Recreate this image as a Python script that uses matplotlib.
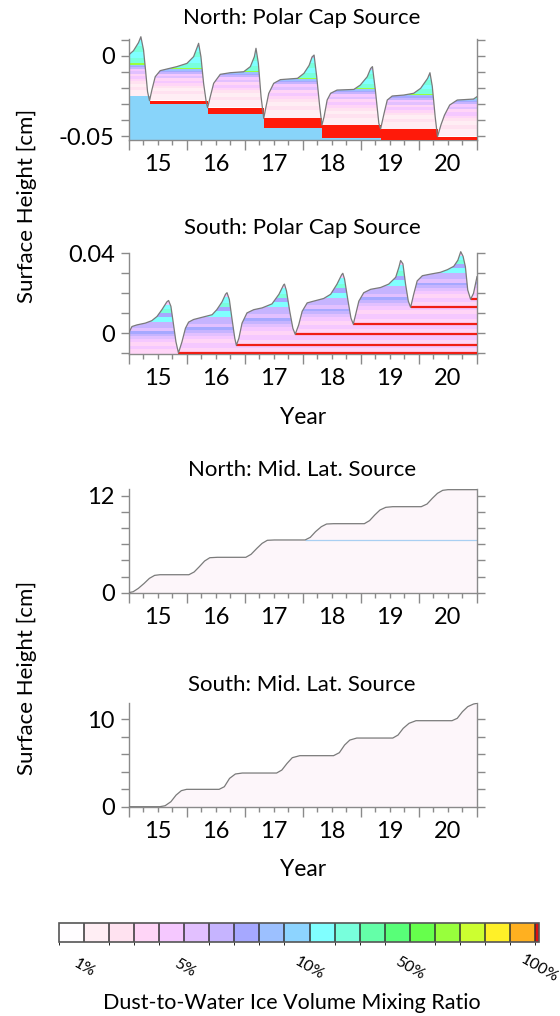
import numpy as np
import matplotlib
matplotlib.use("Agg")
import matplotlib.pyplot as plt
from matplotlib.colors import ListedColormap, BoundaryNorm, to_rgba
from matplotlib.cm import ScalarMappable
from matplotlib.patches import Polygon

plt.rcParams['font.family'] = ['Lato', 'DejaVu Sans']

# ---------------- data ----------------
ratio_colors = ['#FFFDFF', '#FFEEF4', '#FFE2F0', '#FFD5F7', '#F5C8FF', '#E2C0FF',
                '#C6B4FF', '#A6A8FF', '#9CC0FF', '#8DD4FF', '#80FFFF', '#78FFDC',
                '#64FFA8', '#58FF78', '#66FF4C', '#98FF3C', '#CCFF30', '#FFF028',
                '#FFB020', '#DD1111']
ratio_bounds = [0, 1, 2, 3, 4, 5, 6, 7, 8, 9, 10, 11, 12, 13, 14, 15, 16, 17, 18, 19, 19.16]
ratio_tick_pos = [1, 5, 10, 14, 19.16]
ratio_tick_labels = ['1%', '5%', '10%', '50%', '100%']

year_labels = [15, 16, 17, 18, 19, 20]

# North: Polar Cap Source
north_cap_year = [14.50, 14.586, 14.672, 14.713, 14.759, 14.793, 14.828, 14.862,
                  14.902, 14.960, 15.046, 15.161, 15.333, 15.506, 15.621, 15.690, 15.707,
                  15.747, 15.793, 15.839, 15.862,
                  15.908, 15.966, 16.08, 16.253, 16.483, 16.598, 16.667, 16.695, 16.736,
                  16.782, 16.828,
                  16.856, 16.914, 17.0, 17.115, 17.41, 17.52, 17.61, 17.66, 17.695, 17.74,
                  17.79, 17.83,
                  17.867, 17.92, 17.98, 18.09, 18.38, 18.49, 18.61, 18.67, 18.70, 18.75,
                  18.81, 18.84,
                  18.90, 18.955, 19.04, 19.24, 19.41, 19.53, 19.65, 19.69, 19.73, 19.78, 19.82,
                  19.88, 19.94, 20.03, 20.16, 20.44, 20.5]
north_cap_height = [0.0004, 0.0031, 0.0081, 0.0118, 0.0035, -0.0089, -0.0224, -0.0280,
                    -0.0214, -0.0131, -0.0093, -0.0083, -0.0068, -0.0048, -0.0006, 0.0060, 0.0077,
                    -0.0006, -0.0172, -0.0290, -0.0324,
                    -0.0255, -0.0172, -0.0116, -0.0106, -0.0100, -0.0068, -0.0006, 0.0046, -0.0048,
                    -0.0255, -0.0390,
                    -0.0338, -0.0235, -0.0172, -0.0149, -0.0141, -0.0110, -0.0060, -0.0008, 0.0004,
                    -0.0130, -0.0310, -0.0432,
                    -0.0380, -0.0276, -0.0234, -0.0214, -0.0210, -0.0183, -0.0131, -0.0079, -0.0068,
                    -0.0214, -0.0421, -0.0456,
                    -0.0359, -0.0276, -0.0251, -0.0245, -0.0234, -0.0203, -0.0141, -0.0106, -0.0190,
                    -0.0380, -0.0504,
                    -0.0430, -0.0370, -0.0307, -0.0276, -0.0270, -0.0255]
north_cap_seg_edges = [14.5, 14.862, 15.862, 16.828, 17.83, 18.84, 19.82, 20.5]
north_cap_base = [-0.0254, -0.0280, -0.0324, -0.0390, -0.0432, -0.0456, -0.0504]
north_cap_knee = [-0.0060, -0.0088, -0.0105, -0.0147, -0.0212, -0.0248, -0.0272]
north_cap_peak = [0.0118, 0.0077, 0.0046, 0.0004, -0.0068, -0.0106, -0.0255]
north_cap_lag_bottom = [None, -0.0301, -0.0365, -0.0452, -0.0515, -0.0526, -0.0526]
north_cap_ice_top = [-0.0254, -0.0301, -0.0365, -0.0452, -0.0515, None, None]

# South: Polar Cap Source
south_cap_year = [14.50, 14.56, 14.645, 14.79, 14.90, 14.99, 15.075, 15.16, 15.19, 15.23,
                  15.276, 15.317, 15.36,
                  15.42, 15.48, 15.535, 15.62, 15.82, 15.94, 16.02, 16.11, 16.17, 16.196,
                  16.236, 16.28, 16.33, 16.357,
                  16.40, 16.455, 16.54, 16.655, 16.80, 16.97, 17.09, 17.17, 17.185, 17.22,
                  17.276, 17.33, 17.37,
                  17.43, 17.49, 17.576, 17.69, 17.86, 17.98, 18.09, 18.17, 18.19, 18.22,
                  18.28, 18.33, 18.37,
                  18.41, 18.466, 18.55, 18.67, 18.84, 18.98, 19.10, 19.155, 19.185, 19.225,
                  19.27, 19.317, 19.357,
                  19.41, 19.47, 19.56, 19.70, 19.87, 19.99, 20.10, 20.17, 20.22, 20.26,
                  20.30, 20.34, 20.39, 20.44, 20.5]
south_cap_height = [0.0, 0.0034, 0.0042, 0.0051, 0.0063, 0.0084, 0.0118, 0.0157, 0.0164, 0.0135,
                    0.0042, -0.0043, -0.0098,
                    -0.0043, 0.0025, 0.0056, 0.0069, 0.0084, 0.0093, 0.0118, 0.0157, 0.0195, 0.0203,
                    0.0169, 0.0076, -0.0025, -0.0060,
                    -0.0025, 0.0051, 0.0102, 0.0118, 0.0127, 0.0147, 0.0195, 0.0242, 0.0246, 0.0212,
                    0.0110, 0.0025, -0.0005,
                    0.0042, 0.0110, 0.0152, 0.0161, 0.0174, 0.0195, 0.0246, 0.0293, 0.0300, 0.0271,
                    0.0161, 0.0076, 0.0046,
                    0.0093, 0.0161, 0.0203, 0.0220, 0.0229, 0.0246, 0.0280, 0.0330, 0.0364, 0.0347,
                    0.0246, 0.0161, 0.0130,
                    0.0195, 0.0262, 0.0288, 0.0296, 0.0305, 0.0318, 0.0335, 0.0365, 0.0408, 0.0385,
                    0.0333, 0.0217, 0.0170, 0.0200, 0.0283]
south_cap_seg_edges = [14.5, 15.36, 16.357, 17.37, 18.37, 19.357, 20.39, 20.5]
south_cap_base = [-0.0105, -0.0098, -0.0060, -0.0005, 0.0046, 0.0130, 0.0170]
south_cap_knee = [0.0045, 0.0069, 0.0118, 0.0161, 0.0220, 0.0290, 0.0283]
south_cap_peak = [0.0164, 0.0203, 0.0246, 0.0300, 0.0364, 0.0408, 0.0300]

# layer colour profiles (fraction of layer thickness -> colour index)
north_low_f = [0.20, 0.30, 0.40, 0.48, 0.56, 0.64, 0.72, 0.79, 0.86, 0.92, 0.96, 1.0]
north_low_c = [1, 2, 1, 2, 3, 4, 3, 5, 4, 6, 7, 8]
north_up_g = [0.05, 0.25, 0.45, 0.65, 0.85, 1.01]
north_up_c = [15, 11, 10, 11, 10, 6]
south_low_f = [0.15, 0.28, 0.40, 0.50, 0.60, 0.68, 0.76, 0.86, 1.0]
south_low_c = [3, 4, 3, 4, 5, 6, 7, 5, 6]
south_up_g = [0.10, 0.30, 0.45, 0.62, 0.82, 1.01]
south_up_c = [6, 10, 7, 11, 10, 4]

# North: Mid. Lat. Source
north_mid_year = [14.5, 14.58, 14.67, 14.77, 14.86, 14.95, 15.04, 15.54, 15.63, 15.72, 15.81,
                  15.90, 16.03, 16.52, 16.61, 16.71, 16.80, 16.89, 17.01, 17.54, 17.63, 17.72,
                  17.82, 17.91, 18.03, 18.56, 18.65, 18.74, 18.83, 18.93, 19.05, 19.54, 19.64,
                  19.73, 19.82, 19.91, 20.0, 20.5]
north_mid_height = [0.0, 0.12, 0.54, 1.16, 1.78, 2.15, 2.23, 2.23, 2.57, 3.23, 3.93,
                    4.34, 4.39, 4.39, 4.76, 5.50, 6.12, 6.50, 6.54, 6.54, 6.87, 7.57,
                    8.19, 8.52, 8.56, 8.56, 8.94, 9.64, 10.26, 10.59, 10.67, 10.67, 11.0,
                    11.7, 12.33, 12.70, 12.78, 12.78]
north_mid_line_level = 6.54
north_mid_line_start = 17.54

# South: Mid. Lat. Source
south_mid_year = [14.5, 15.04, 15.13, 15.23, 15.32, 15.41, 15.50, 16.06, 16.15, 16.24, 16.34,
                  16.46, 17.05, 17.14, 17.23, 17.32, 17.45, 18.03, 18.13, 18.22, 18.31, 18.43,
                  19.05, 19.14, 19.23, 19.33, 19.45, 20.07, 20.16, 20.25, 20.34, 20.44, 20.5]
south_mid_height = [0.0, 0.0, 0.11, 0.57, 1.33, 1.83, 1.98, 1.98, 2.28, 3.23, 3.73,
                    3.84, 3.84, 4.18, 4.94, 5.59, 5.82, 5.82, 6.16, 7.03, 7.60, 7.83,
                    7.83, 8.17, 8.94, 9.51, 9.81, 9.81, 10.08, 10.84, 11.41, 11.71, 11.79]

# ---------------- figure ----------------
W, H = 560, 1016
fig = plt.figure(figsize=(W / 100, H / 100), dpi=100)
AXC = '#8a8a8a'
FS_TICK = 17
FS_TITLE = 16


def axes_px(left, top, right, bottom):
    return fig.add_axes([left / W, 1 - bottom / H, (right - left) / W, (bottom - top) / H])


def style(ax, ylim, yticks, ylabels, spine_top):
    ax.set_xlim(14.5, 20.5)
    ax.set_ylim(*ylim)
    ax.spines['top'].set_visible(False)
    for s in ['left', 'right', 'bottom']:
        ax.spines[s].set_color(AXC)
        ax.spines[s].set_linewidth(1.0)
    ax.spines['left'].set_bounds(ylim[0], spine_top)
    ax.spines['right'].set_bounds(ylim[0], spine_top)
    ax.set_yticks(yticks, labels=ylabels)
    ax.tick_params(axis='y', which='major', left=True, right=True, direction='out',
                   length=6, width=1, color=AXC, labelsize=FS_TICK, pad=4)
    ax.set_xticks(np.arange(14.5, 20.51, 1.0))
    ax.set_xticks(np.arange(14.5, 20.51, 0.25), minor=True)
    ax.tick_params(axis='x', which='major', length=7, width=1, color=AXC, labelbottom=False)
    ax.tick_params(axis='x', which='minor', length=3.5, width=1, color=AXC)
    sec = ax.secondary_xaxis('bottom')
    sec.set_xticks(year_labels, labels=[str(y) for y in year_labels])
    sec.tick_params(length=0, pad=10, labelsize=FS_TICK)
    sec.spines['bottom'].set_visible(False)
    ax.patch.set_alpha(0)


def layered_fill(ax, xs, ys, edges, base, knee, peak, lf, lc, ug, uc, persistent, ylo, yhi):
    pal = np.array([to_rgba(c) for c in ratio_colors])
    gx = np.linspace(14.5, 20.5, 1400)
    gy = np.linspace(ylo, yhi, 900)
    nseg = len(base)
    seg = np.clip(np.searchsorted(edges, gx, side='right') - 1, 0, nseg - 1)
    Hh = np.repeat(gy[:, None], len(gx), axis=1)
    S = np.repeat(seg[None, :], len(gy), axis=0)
    base_a, knee_a, peak_a = np.array(base), np.array(knee), np.array(peak)
    dep = np.full(Hh.shape, -1)
    if persistent:
        for j in range(nseg):
            dep[(S >= j) & (Hh >= base_a[j])] = j
    else:
        m = Hh >= base_a[S]
        dep[m] = S[m]
    valid = dep >= 0
    d = np.where(valid, dep, 0)
    f = (Hh - base_a[d]) / (knee_a[d] - base_a[d])
    g = (Hh - knee_a[d]) / np.maximum(peak_a[d] - knee_a[d], 1e-9)
    li = np.array(lc)[np.clip(np.searchsorted(lf, f), 0, len(lc) - 1)]
    ui = np.array(uc)[np.clip(np.searchsorted(ug, g), 0, len(uc) - 1)]
    idx = np.where(f <= 1, li, ui)
    img = pal[idx]
    img[~valid] = (1, 1, 1, 0)
    im = ax.imshow(img, extent=(14.5, 20.5, ylo, yhi), origin='lower', aspect='auto',
                   interpolation='nearest', zorder=1)
    verts = [(14.5, ylo)] + list(zip(xs, ys)) + [(20.5, ylo)]
    poly = Polygon(verts, closed=True, facecolor='none', edgecolor='none',
                   transform=ax.transData)
    ax.add_patch(poly)
    im.set_clip_path(poly)


# ---- Panel 1: North polar cap ----
ax1 = axes_px(128.5, 35.6, 477, 140.2)
yl1 = (-0.0526, 0.0125)
layered_fill(ax1, north_cap_year, north_cap_height, north_cap_seg_edges, north_cap_base,
             north_cap_knee, north_cap_peak, north_low_f, north_low_c, north_up_g, north_up_c,
             False, *yl1)
for k in range(len(north_cap_base)):
    x0, x1 = north_cap_seg_edges[k], north_cap_seg_edges[k + 1]
    if north_cap_ice_top[k] is not None:
        ax1.bar(x0, north_cap_ice_top[k] - yl1[0], width=x1 - x0, bottom=yl1[0], align='edge',
                color='#88D4FA', linewidth=0, zorder=2)
    if north_cap_lag_bottom[k] is not None:
        ax1.bar(x0, north_cap_base[k] - north_cap_lag_bottom[k], width=x1 - x0,
                bottom=north_cap_lag_bottom[k], align='edge', color='#FF1A0A', linewidth=0, zorder=3)
ax1.plot(north_cap_year, north_cap_height, color='#7a7a7a', lw=0.9, zorder=4)
style(ax1, yl1, [-0.05, -0.04, -0.03, -0.02, -0.01, 0, 0.01],
      ['-0.05', '', '', '', '', '0', ''], 0.0101)

# ---- Panel 2: South polar cap ----
ax2 = axes_px(128.5, 249.3, 477, 354.3)
yl2 = (-0.0105, 0.042)
layered_fill(ax2, south_cap_year, south_cap_height, south_cap_seg_edges, south_cap_base,
             south_cap_knee, south_cap_peak, south_low_f, south_low_c, south_up_g, south_up_c,
             True, *yl2)
for k in range(1, len(south_cap_base)):
    ax2.hlines(south_cap_base[k], south_cap_seg_edges[k], 20.5, color='#F01E14', lw=1.6, zorder=3)
ax2.plot(south_cap_year, south_cap_height, color='#7a7a7a', lw=0.9, zorder=4)
style(ax2, yl2, [-0.01, 0, 0.01, 0.02, 0.03, 0.04], ['', '0', '', '', '', '0.04'], 0.04)

# ---- Panel 3: North mid lat ----
ax3 = axes_px(128.5, 487.9, 477, 592.7)
yl3 = (0, 13)
ax3.fill_between(north_mid_year, 0, north_mid_height, color='#FDF6FA', lw=0, zorder=1)
ax3.hlines(north_mid_line_level, north_mid_line_start, 20.5, color='#A9CFF2', lw=0.9, zorder=2)
ax3.plot(north_mid_year, north_mid_height, color='#7a7a7a', lw=0.9, zorder=3)
style(ax3, yl3, [0, 2, 4, 6, 8, 10, 12], ['0', '', '', '', '', '', '12'], 12.9)

# ---- Panel 4: South mid lat ----
ax4 = axes_px(128.5, 702.8, 477, 806.7)
yl4 = (0, 11.85)
ax4.fill_between(south_mid_year, 0, south_mid_height, color='#FDF6FA', lw=0, zorder=1)
ax4.plot(south_mid_year, south_mid_height, color='#7a7a7a', lw=0.9, zorder=3)
style(ax4, yl4, [0, 2, 4, 6, 8, 10], ['0', '', '', '', '', '10'], 11.8)

# ---- titles & labels ----
def ftext(x, y, s, fs=FS_TITLE, **kw):
    fig.text(x / W, 1 - y / H, s, ha='center', va='center', fontsize=fs, **kw)

ftext(302, 18, 'North: Polar Cap Source')
ftext(302, 228.5, 'South: Polar Cap Source')
ftext(302, 470, 'North: Mid. Lat. Source')
ftext(302, 685, 'South: Mid. Lat. Source')
ftext(303, 418, 'Year', fs=16.5)
ftext(303, 870, 'Year', fs=16.5)
ftext(27, 206, 'Surface Height [cm]', fs=16, rotation=90)
ftext(27, 678, 'Surface Height [cm]', fs=16, rotation=90)
ftext(292, 1003, 'Dust-to-Water Ice Volume Mixing Ratio', fs=15.5)

# ---- colorbar ----
cax = axes_px(59, 923, 539, 942)
cmap = ListedColormap(ratio_colors)
norm = BoundaryNorm(ratio_bounds, cmap.N)
cb = fig.colorbar(ScalarMappable(norm=norm, cmap=cmap), cax=cax, orientation='horizontal',
                  spacing='proportional', drawedges=True)
cb.outline.set_edgecolor('#555555')
cb.outline.set_linewidth(1.2)
cb.dividers.set_color('#333333')
cb.dividers.set_linewidth(1.1)
cb.set_ticks(ratio_tick_pos, labels=ratio_tick_labels)
cax.tick_params(axis='x', length=0, pad=19, labelsize=11.5)
for t in cax.get_xticklabels():
    t.set_rotation(-30)
    t.set_ha('center')
    t.set_va('center')

fig.savefig('out.png', dpi=100)
